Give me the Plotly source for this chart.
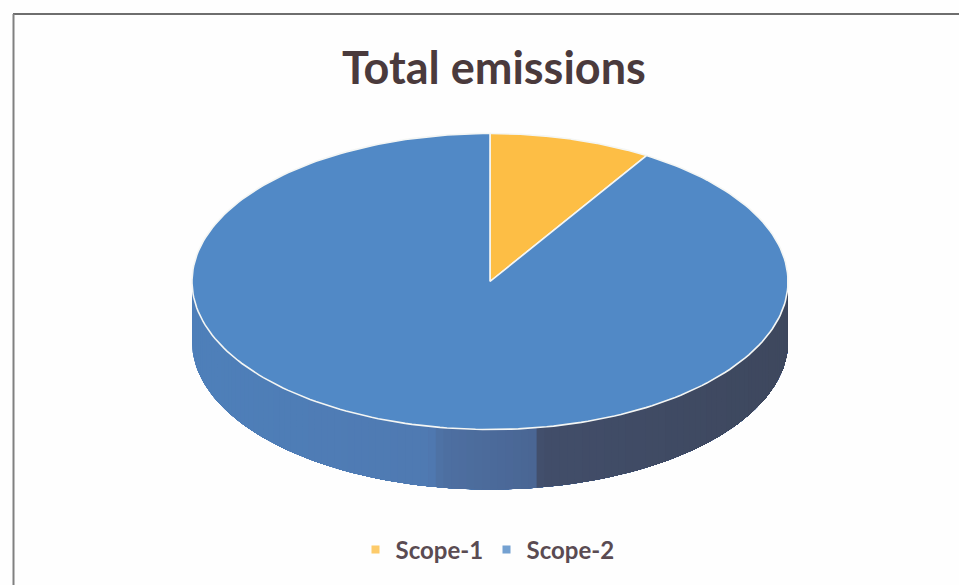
import numpy as np
import plotly.graph_objects as go

labels = ["Scope-1", "Scope-2"]
values = [8.8, 91.2]
colors = ["#FDBE45", "#5189C6"]
title_text = "Total emissions"

W, H = 959, 585
CX, CY, RX, RY, DEPTH = 490, 281.5, 298, 148, 60
side_stops_x = [-1.0, -0.2, -0.16, 0.16, 0.17, 1.0]
side_stops_c = [(78, 128, 186), (80, 122, 178), (78, 112, 162), (74, 102, 148), (66, 78, 106), (62, 72, 94)]

fig = go.Figure()

def px(x):
    return (x - CX) / RX

def py(y):
    return (CY - y) / RY

drop = DEPTH / RY

# side wall: front half of the disc, painted left to right so no seams appear
edges = np.linspace(-np.pi / 2, np.pi / 2, 121)
for a, b in zip(edges[:-1], edges[1:]):
    t = np.linspace(a, np.pi / 2, max(4, int((np.pi / 2 - a) * 40)))
    xs = np.sin(t)
    ys = -np.cos(t)
    mid = np.sin((a + b) / 2)
    rgb = [np.interp(mid, side_stops_x, [c[i] for c in side_stops_c]) for i in range(3)]
    col = "rgb(%d,%d,%d)" % tuple(rgb)
    fig.add_trace(go.Scatter(
        x=np.r_[xs, xs[::-1]], y=np.r_[ys, ys[::-1] - drop],
        mode="lines", fill="toself", fillcolor=col,
        line=dict(color=col, width=0), hoverinfo="skip", showlegend=False))

# top face: slices from the values
total = sum(values)
start = 0.0
for lab, val, col in zip(labels, values, colors):
    end = start + val / total * 2 * np.pi
    t = np.linspace(start, end, 240)
    fig.add_trace(go.Scatter(
        x=np.r_[0, np.sin(t), 0], y=np.r_[0, np.cos(t), 0],
        mode="lines", fill="toself", fillcolor=col,
        line=dict(color="#F4F6F4", width=1.6), name=lab,
        hoverinfo="skip", showlegend=False))
    start = end

# legend entries
for lab, col in zip(labels, colors):
    fig.add_trace(go.Scatter(
        x=[None], y=[None], mode="markers", name=lab,
        marker=dict(symbol="square", size=8, color=col, opacity=0.8)))

fig.update_layout(
    width=W, height=H, autosize=False,
    margin=dict(l=0, r=0, t=0, b=0),
    paper_bgcolor="#FEFEFE", plot_bgcolor="#FEFEFE",
    xaxis=dict(visible=False, range=[px(0), px(W)], fixedrange=True),
    yaxis=dict(visible=False, range=[py(H), py(0)], fixedrange=True),
    font=dict(family="Lato"),
    showlegend=True,
    legend=dict(orientation="h", x=0.5073, xanchor="center", y=0.06, yanchor="middle",
                bgcolor="rgba(0,0,0,0)", itemwidth=30, tracegroupgap=0,
                entrywidth=86, entrywidthmode="pixels",
                font=dict(family="Lato", size=24, color="#5A4B52", weight="bold")),
    annotations=[dict(text="<b>%s</b>" % title_text, xref="paper", yref="paper",
                      x=(342 + 645) / 2 / W, y=1 - 67 / H, xanchor="center", yanchor="middle",
                      showarrow=False, font=dict(family="Lato", size=45, color="#4A3A3C"))],
    shapes=[
        dict(type="line", xref="paper", yref="paper", x0=13 / W, x1=1, y0=1 - 14 / H, y1=1 - 14 / H,
             line=dict(color="#6E6E6E", width=2)),
        dict(type="line", xref="paper", yref="paper", x0=13.5 / W, x1=13.5 / W, y0=0, y1=1 - 14 / H,
             line=dict(color="#808080", width=2)),
    ],
)

fig.write_html("out.html", config={"displayModeBar": False},
               post_script="document.body.style.margin='0';document.body.style.background='#FEFEFE';")
